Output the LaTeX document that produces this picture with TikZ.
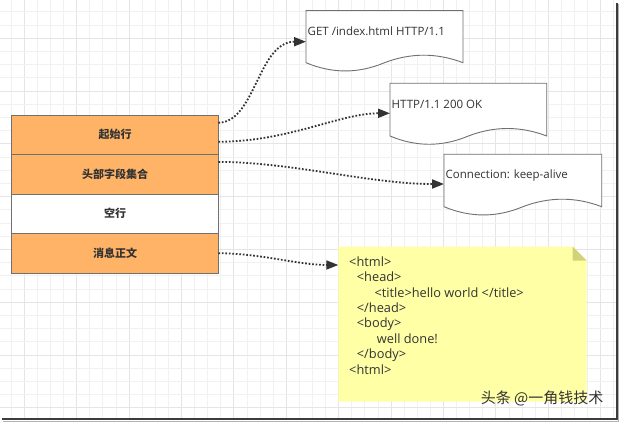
\documentclass[tikz,border=0pt]{standalone}
\usepackage{fontspec}
\setmainfont{Open Sans}
\newfontfamily\cjk{Noto Sans CJK SC}
\usetikzlibrary{arrows.meta,calc}
\definecolor{orangefill}{HTML}{FFB366}
\definecolor{boxline}{HTML}{707070}
\definecolor{txt}{HTML}{333333}
\definecolor{notefill}{HTML}{FFFFA6}
\definecolor{notefold}{HTML}{D2D27A}
\definecolor{gridminor}{HTML}{F1F1F1}
\definecolor{gridmajor}{HTML}{E5E5E5}
\definecolor{framec}{HTML}{3C3C3C}
\tikzset{
  rowbox/.style={draw=boxline, line width=0.9pt, minimum width=206.6pt, minimum height=39.5pt,
    inner sep=0pt, outer sep=0pt, text=txt, font=\cjk\bfseries\fontsize{11}{13}\selectfont},
  docbox/.style={inner sep=0pt, outer sep=0pt},
  docline/.style={draw=boxline, line width=0.9pt, fill=white},
  doctext/.style={inner sep=0pt, anchor=west, text=txt, font=\fontsize{11.5}{14}\selectfont},
  flow/.style={draw=txt, line width=1.8pt, dash pattern=on 1.7pt off 1.8pt,
    -{Triangle[length=12pt,width=9pt,sep=0pt]}},
  minorgrid/.style={draw=gridminor, line width=0.9pt},
  majorgrid/.style={draw=gridmajor, line width=1pt},
}
\newcommand\docshape[6]{%
  \pgfmathsetmacro\dw{#4-#2}%
  \pgfmathsetmacro\dh{#5-#3}%
  \pgfmathsetmacro\dq{(#4-#2)/6}%
  \node[docbox, minimum width=\dw pt, minimum height=\dh pt, anchor=north west] (#1) at (#2,#3) {};
  \draw[docline] (#1.south west) -- (#1.north west) -- (#1.north east) -- (#1.south east)
    .. controls +(-\dq,-10) and +(\dq,-10) .. (#1.south)
    .. controls +(-\dq,11) and +(\dq,11) .. (#1.south west) -- cycle;
  \node[doctext] (#1t) at ($(#1.north west)+(1.5,21)$) {#6};
}
\begin{document}
\begin{tikzpicture}[x=1pt,y=-1pt]
\useasboundingbox (0,0) rectangle (620,422);
\fill[white] (0,0) rectangle (620,422);
% grid
\begin{scope}
\clip (0,0) rectangle (616,419);
\foreach \i in {-1,...,45} {
  \pgfmathsetmacro\xx{24.3+13.1*\i}
  \pgfmathtruncatemacro\mm{mod(\i+40,4)}
  \ifnum\mm=0 \draw[majorgrid] (\xx,0) -- (\xx,422); \else \draw[minorgrid] (\xx,0) -- (\xx,422); \fi
}
\foreach \j in {-3,...,30} {
  \pgfmathsetmacro\yy{38.3+13.2*\j}
  \pgfmathtruncatemacro\mm{mod(\j+40,4)}
  \ifnum\mm=0 \draw[majorgrid] (0,\yy) -- (620,\yy); \else \draw[minorgrid] (0,\yy) -- (620,\yy); \fi
}
\end{scope}
% frame
\draw[gray!60, line width=1pt] (3,421) -- (618.5,421) -- (618.5,4);
\draw[framec, line width=2pt] (2,419.3) -- (616.8,419.3) -- (616.8,3);
% left stack
\node[rowbox, fill=orangefill, anchor=north west] (r1) at (11.7,115) {起始行};
\node[rowbox, fill=orangefill, anchor=north] (r2) at (r1.south) {头部字段集合};
\node[rowbox, fill=white, anchor=north] (r3) at (r2.south) {空行};
\node[rowbox, fill=orangefill, anchor=north] (r4) at (r3.south) {消息正文};
% documents
\docshape{d1}{306}{10.7}{463}{62.7}{GET /index.html HTTP/1.1}
\docshape{d2}{390}{83.3}{546.7}{136}{HTTP/1.1 200 OK}
\docshape{d3}{444}{154.3}{601.7}{206.7}{Connection: keep-alive}
% note
\node[inner sep=0pt, outer sep=0pt, minimum width=248.4pt, minimum height=155pt, anchor=north west] (note) at (338.3,246.7) {};
\fill[notefill] (note.north west) -- ([xshift=-14pt]note.north east) -- ([yshift=-14pt]note.north east)
  -- (note.south east) -- (note.south west) -- cycle;
\fill[notefold] ([xshift=-14pt]note.north east) -- ([yshift=-14pt]note.north east) -- ([xshift=-14pt,yshift=-14pt]note.north east) -- cycle;
\node[anchor=north west, inner sep=0pt, align=left, text=txt, font=\fontsize{12.8}{15.45}\selectfont] (notetext) at (349,256.2) {%
<html>\\
\hspace*{7.7pt}<head>\\
\hspace*{25.3pt}<title>hello world </title>\\
\hspace*{7.7pt}</head>\\
\hspace*{7.7pt}<body>\\
\hspace*{27.7pt}well done!\\
\hspace*{7.7pt}</body>\\
<html>};
% watermark
\node[anchor=east, inner sep=0pt, text=txt, font=\cjk\fontsize{15}{16}\selectfont] (wm) at (603.5,398.3) {头条 @一角钱技术};
% connectors
\draw[flow] ($(r1.north east)+(0,7.7)$) .. controls +(37,0) and +(-48,0) .. ($(d1.north west)+(0,31)$);
\draw[flow] ($(r1.east)+(0,7)$) .. controls +(70,0) and +(-50,0) .. ($(d2.north west)+(0,30)$);
\draw[flow] ($(r2.north east)+(0,7.4)$) .. controls +(72,0) and +(-74,0) .. ($(d3.north west)+(0,29.7)$);
\draw[flow] (r4.east) .. controls +(42,0) and +(-40,0) .. ($(note.north west)+(0,18.3)$);
\end{tikzpicture}
\end{document}
